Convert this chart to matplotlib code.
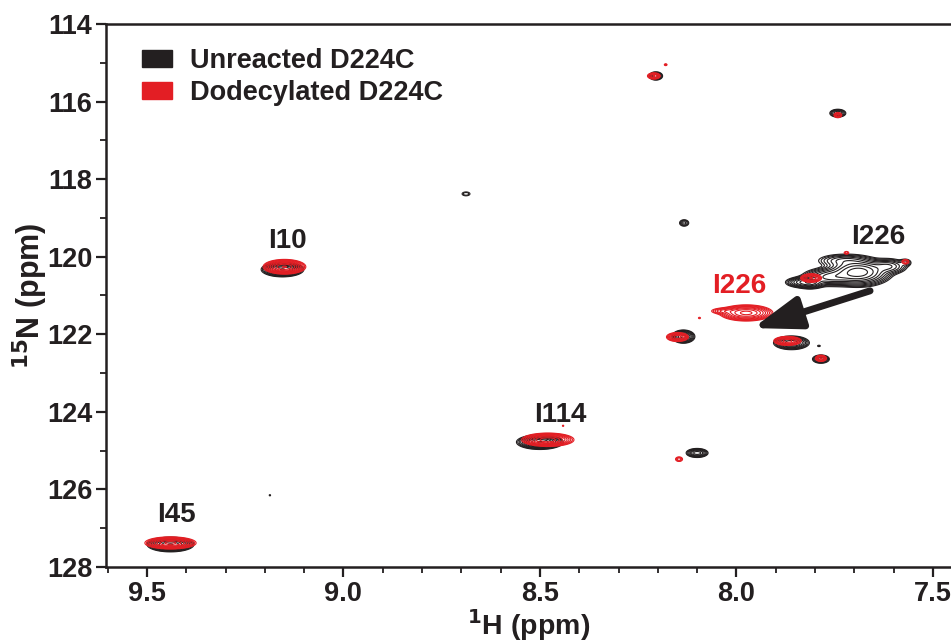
import numpy as np
import matplotlib
matplotlib.use("Agg")
import matplotlib.pyplot as plt
from matplotlib.patches import Patch

plt.rcParams['font.family'] = ['Liberation Sans', 'DejaVu Sans']
plt.rcParams['font.weight'] = 'bold'

# Peak lists: 1H ppm, 15N ppm, widths (ppm), relative height
black_h   = [9.440, 9.155, 9.187, 8.688, 8.500, 8.100, 8.205, 8.133, 7.742, 8.135, 7.860, 7.785, 7.790, 7.570, 7.812, 7.690, 7.760, 7.615, 7.725, 7.835]
black_n   = [127.42, 120.33, 126.15, 118.38, 124.78, 125.06, 115.34, 119.13, 116.30, 122.06, 122.22, 122.64, 122.30, 120.15, 120.66, 120.40, 120.52, 120.25, 120.10, 120.66]
black_sh  = [0.022, 0.020, 0.002, 0.008, 0.022, 0.012, 0.008, 0.007, 0.010, 0.012, 0.018, 0.010, 0.004, 0.008, 0.016, 0.032, 0.030, 0.022, 0.032, 0.018]
black_sn  = [0.070, 0.070, 0.020, 0.040, 0.070, 0.050, 0.050, 0.050, 0.050, 0.070, 0.070, 0.050, 0.020, 0.050, 0.070, 0.140, 0.100, 0.090, 0.080, 0.060]
black_amp = [40, 40, 1.5, 2.2, 40, 15, 10, 4, 8, 20, 25, 10, 1.5, 4, 20, 50, 20, 12, 8, 12]

red_h   = [9.440, 9.150, 8.480, 8.441, 8.146, 8.210, 8.180, 7.742, 8.150, 8.094, 7.975, 8.030, 7.870, 7.785, 7.810, 7.570, 7.720]
red_n   = [127.38, 120.26, 124.72, 124.36, 125.22, 115.34, 115.05, 116.35, 122.07, 121.58, 121.45, 121.40, 122.17, 122.62, 120.55, 120.13, 119.90]
red_sh  = [0.025, 0.020, 0.025, 0.002, 0.006, 0.008, 0.003, 0.006, 0.012, 0.003, 0.026, 0.018, 0.015, 0.007, 0.012, 0.006, 0.005]
red_sn  = [0.060, 0.070, 0.065, 0.020, 0.040, 0.040, 0.020, 0.040, 0.050, 0.020, 0.080, 0.040, 0.050, 0.040, 0.050, 0.040, 0.030]
red_amp = [30, 40, 35, 1.5, 3, 8, 2, 4, 15, 1.5, 30, 5, 15, 8, 12, 3, 2]

labels_text  = ["I10", "I45", "I114", "I226", "I226"]
labels_h     = [9.143, 9.426, 8.449, 7.993, 7.638]
labels_n     = [119.60, 126.66, 124.08, 120.75, 119.50]
labels_color = ["#231f20", "#231f20", "#231f20", "#e31e24", "#231f20"]

arrow_start = (7.66, 120.88)
arrow_end = (7.958, 121.84)

x_ticks = [9.5, 9.0, 8.5, 8.0, 7.5]
y_ticks = [114, 116, 118, 120, 122, 124, 126, 128]

BLACK = "#231f20"
RED = "#e31e24"

fig = plt.figure(figsize=(9.51, 6.43), dpi=100)
ax = fig.add_axes([0.1115, 0.1182, 0.8885, 0.8445])

H = np.linspace(7.40, 9.65, 1400)
N = np.linspace(113.5, 128.5, 1100)
HH, NN = np.meshgrid(H, N)

def field(hs, ns, shs, sns, amps):
    Z = np.zeros_like(HH)
    for h, n, sh, sn, a in zip(hs, ns, shs, sns, amps):
        Z += a * np.exp(-0.5 * (((HH - h) / sh) ** 2 + ((NN - n) / sn) ** 2))
    return Z

levels = 1.0 * 1.5 ** np.arange(0, 11)
Zb = field(black_h, black_n, black_sh, black_sn, black_amp)
Zr = field(red_h, red_n, red_sh, red_sn, red_amp)
ax.contour(HH, NN, Zb, levels=levels, colors=BLACK, linewidths=0.8)
ax.contour(HH, NN, Zr, levels=levels, colors=RED, linewidths=0.8)

for t, h, n, c in zip(labels_text, labels_h, labels_n, labels_color):
    ax.text(h, n, t, color=c, fontsize=20, fontweight='bold', ha='center', va='center')

ax.annotate("", xy=arrow_end, xytext=arrow_start,
            arrowprops=dict(arrowstyle="-|>,head_length=1.45,head_width=0.5",
                            mutation_scale=20, color=BLACK, lw=5,
                            shrinkA=0, shrinkB=0))

ax.set_xlim(9.604, 7.454)
ax.set_ylim(128, 114)
ax.set_xticks(x_ticks)
ax.set_yticks(y_ticks)
ax.set_xticks(np.arange(7.5, 9.61, 0.1), minor=True)
ax.set_yticks(np.arange(114, 128.1, 1), minor=True)
ax.set_xticklabels([f"{v:.1f}" for v in x_ticks])
ax.set_yticklabels([str(v) for v in y_ticks])
ax.tick_params(axis='both', which='major', length=7, width=1.6, labelsize=19.5, pad=3,
               color=BLACK, labelcolor=BLACK)
ax.tick_params(axis='both', which='minor', length=4, width=1.3, color=BLACK)
for lab in ax.get_xticklabels() + ax.get_yticklabels():
    lab.set_fontweight('bold')
for s in ['left', 'bottom', 'top']:
    ax.spines[s].set_linewidth(1.8)
    ax.spines[s].set_color(BLACK)
ax.spines['right'].set_visible(False)

ax.set_xlabel(r"$^{\mathbf{1}}$H (ppm)", fontsize=20.5, fontweight='bold', labelpad=0, color=BLACK)
ax.set_ylabel(r"$^{\mathbf{15}}$N (ppm)", fontsize=22, fontweight='bold', labelpad=-2.5, color=BLACK)

handles = [Patch(facecolor=BLACK, edgecolor=BLACK), Patch(facecolor=RED, edgecolor=RED)]
leg = ax.legend(handles, ["Unreacted D224C", "Dodecylated D224C"], loc='upper left',
                bbox_to_anchor=(0.014, 1.0), frameon=False,
                prop={'weight': 'bold', 'size': 19.5}, handlelength=1.1, handleheight=0.6,
                handletextpad=0.67, labelspacing=0.22)
for t in leg.get_texts():
    t.set_color(BLACK)

fig.savefig("out.png", dpi=100)
